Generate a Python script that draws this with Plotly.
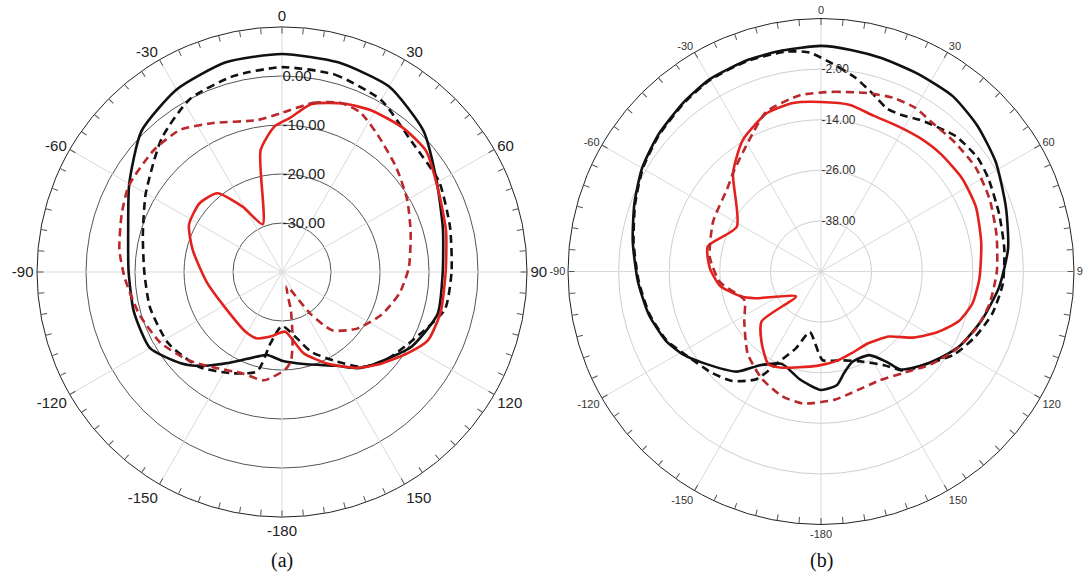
import plotly.graph_objects as go

# ---------------- data: panel (a) ----------------
a_bs_theta = [0, 15, 30, 45, 60, 75, 90, 105, 120, 135, 142, 150, 165, 180, -170, -163, -150, -139, -132, -120, -105, -90, -75, -60, -45, -30, -15, 0]
a_bs_r = [4.5, 4.3, 3.7, 0.8, -3.5, -6.0, -7.2, -7.1, -9.5, -13.4, -15.1, -17.9, -20.5, -21.9, -22.8, -21.9, -18.6, -14.6, -12.2, -8.9, -8.7, -8.7, -7.5, -4.0, 0.6, 3.0, 4.3, 4.5]

a_bd_theta = [0, 15, 30, 45, 60, 75, 90, 103, 117, 130, 140, 150, 160, 168, 180, -171, -166, -154, -139, -122, -105, -90, -75, -60, -42, -28, -14, 0]
a_bd_r = [1.8, 1.7, 0.5, -2.5, -3.0, -4.5, -5.4, -5.9, -9.8, -12.2, -14.7, -19.2, -22.7, -26.4, -29.0, -25.4, -19.1, -17.0, -14.3, -12.6, -12.1, -11.9, -10.6, -7.9, -3.3, 0.0, 1.2, 1.8]

a_rs_theta = [-22, -10, -3, 3, 10, 20, 29, 40, 50, 63, 76, 90, 104, 115, 123, 134, 142, 153, 165, 177, -170.5, -159, -149, -121.5, -97.6, -76, -63, -50, -39.4, -31, -22]
a_rs_r = [-29.5, -14.8, -10.3, -8.5, -5.2, -3.4, -2.3, -1.6, -1.6, -4.1, -5.5, -6.6, -6.6, -7.1, -9.5, -12.8, -15.2, -18.9, -22.8, -27.8, -26.7, -25.5, -25.7, -26.3, -24.5, -21.2, -18.7, -18.1, -19.2, -24.5, -29.5]

a_rd_theta = [0, 10.4, 18.9, 26, 35, 47.6, 60, 72.7, 88, 100, 112.8, 127, 139.3, 145.7, 162, 167, 171, 174.2, 178, -170.6, -158.8, -144.7, -133.6, -120.2, -106.4, -92.3, -82.2, -70, -60.6, -46.5, -35.7, -24.8, -9.3, 0]
a_rd_r = [-7.5, -4.9, -3.5, -3.7, -5.9, -8.4, -10.5, -12.5, -14.1, -15.6, -17.8, -20.8, -24.3, -29.6, -36.9, -31.9, -26.1, -21.8, -20.1, -17.6, -17.8, -16.1, -13.8, -11.3, -9.6, -7.9, -6.5, -5.2, -4.1, -3.9, -4.3, -6.5, -8.6, -7.5]

# ---------------- data: panel (b) ----------------
b_bs_theta = [0, 8, 16, 26, 37, 47, 58, 71, 83, 95, 107, 118, 126, 133, 141, 144, 150, 161, 167, 172, 180, -169, -157, -147, -140, -128, -121, -114, -104, -93, -81, -70, -60, -50, -39, -30, -19, -10, 0]
b_bs_r = [3.5, 3.0, 2.6, 2.2, 2.0, 0.7, -1.1, -3.6, -5.3, -7.6, -10.2, -12.6, -15.1, -17.3, -20.1, -23.5, -27.1, -27.3, -25.4, -22.8, -21.9, -23.9, -26.2, -23.5, -19.0, -14.7, -11.8, -9.7, -7.9, -6.5, -4.8, -2.9, -1.0, 0.4, 1.7, 2.7, 3.1, 3.2, 3.5]

b_bd_theta = [-3, 5, 10, 16, 22, 27, 33, 37, 45, 54, 61, 72, 83, 94, 104, 113, 122, 133, 140, 146, 155, 167, 179, -169.5, -162, -155, -149, -141, -133, -121, -114, -104, -93, -81, -70, -60, -50, -39, -30, -19, -9, -3]
b_bd_r = [2.0, -1.4, -3.3, -6.0, -8.3, -8.3, -7.1, -6.4, -4.7, -4.1, -4.6, -5.6, -6.2, -6.8, -8.2, -10.3, -12.8, -17.3, -19.2, -23.2, -26.4, -28.4, -29.0, -35.4, -30.9, -26.3, -20.2, -16.6, -14.7, -12.1, -9.9, -8.1, -6.7, -5.0, -3.1, -1.2, 0.2, 1.5, 2.5, 2.9, 2.8, 2.0]

b_rs_theta = [0, 9.9, 18.6, 28, 36.5, 45.6, 56.6, 67.4, 79.9, 92.6, 102, 109.9, 117.4, 125.5, 133.8, 146.3, 159.7, 169.5, -177.5, -158, -150.5, -140.2, -130, -134.9, -111.9, -107.2, -98, -88.1, -77.5, -62, -41.8, -30.7, -18.8, -9.4, 0]
b_rs_r = [-9.8, -9.9, -11.0, -11.0, -10.6, -10.2, -9.9, -10.2, -11.4, -12.4, -13.3, -15.3, -18.8, -23.0, -27.7, -29.6, -29.3, -28.5, -27.6, -25.4, -24.7, -28.0, -31.6, -41.6, -33.0, -30.1, -25.8, -23.6, -22.5, -27.4, -18.7, -13.7, -10.3, -9.5, -9.8]

b_rd_theta = [-6.8, 3.8, 14.5, 22.5, 30, 36.2, 46.2, 56.2, 67, 78.5, 90, 100.8, 110.2, 120.3, 130.2, 141, 151.9, 166, 174.2, -172.2, -162.7, -150.9, -138.2, -123, -110.4, -96, -82.6, -65.1, -48.9, -41.1, -29.7, -19, -6.8]
b_rd_r = [-7.9, -7.3, -6.3, -5.4, -5.2, -5.9, -5.9, -5.8, -6.5, -7.5, -8.3, -9.3, -10.8, -13.1, -15.9, -19.0, -20.7, -20.3, -19.4, -18.4, -19.0, -21.0, -23.9, -28.3, -30.6, -25.9, -23.4, -21.8, -20.4, -18.5, -14.9, -10.0, -7.9]

# axis settings
a_range = [-40, 10]
a_rticks = [-30, -20, -10, 0]
a_rtext = ["-30.00", "-20.00", "-10.00", "0.00"]
b_range = [-50, 10]
b_rticks = [-38, -26, -14, -2]
b_rtext = ["-38.00", "-26.00", "-14.00", "-2.00"]

ang_major = [0, 30, 60, 90, 120, 150, 180, 210, 240, 270, 300, 330]
ang_ticks = list(range(0, 360, 5))


def ang_label(v):
    if v % 30:
        return ""
    if v <= 150:
        return str(v)
    return str(v - 360)


ang_text = [ang_label(v) for v in ang_ticks]

BLACK = "#111111"
RED = "#e3221d"
DRED = "#b8282c"

fig = go.Figure()


def spokes(subplot, rng):
    for ang in ang_major:
        fig.add_trace(go.Scatterpolar(r=[rng[0], rng[1]], theta=[ang, ang], mode="lines",
                                      line=dict(color="#d9d9d9", width=1), hoverinfo="skip",
                                      showlegend=False, subplot=subplot))


spokes("polar", a_range)
spokes("polar2", b_range)


def curve(subplot, th, r, color, dash):
    fig.add_trace(go.Scatterpolar(r=r, theta=th, mode="lines",
                                  line=dict(color=color, width=2.6, dash=dash, shape="spline", smoothing=0.6),
                                  showlegend=False, subplot=subplot))


DASH = "8px,5px"
curve("polar", a_bs_theta, a_bs_r, BLACK, "solid")
curve("polar", a_bd_theta, a_bd_r, BLACK, DASH)
curve("polar", a_rs_theta, a_rs_r, RED, "solid")
curve("polar", a_rd_theta, a_rd_r, DRED, DASH)

curve("polar2", b_bs_theta, b_bs_r, BLACK, "solid")
curve("polar2", b_bd_theta, b_bd_r, BLACK, DASH)
curve("polar2", b_rs_theta, b_rs_r, RED, "solid")
curve("polar2", b_rd_theta, b_rd_r, DRED, DASH)

W, H = 1083, 581


def dom(cx, cy, R):
    return dict(x=[(cx - R) / W, (cx + R) / W], y=[1 - (cy + R) / H, 1 - (cy - R) / H])


def polar_layout(d, rng, rticks, rtext, gridcol, fsize, rsize, fcol):
    return dict(
        domain=d,
        bgcolor="white",
        angularaxis=dict(rotation=90, direction="clockwise", tickmode="array",
                         tickvals=ang_ticks, ticktext=ang_text, ticks="inside", ticklen=6,
                         tickwidth=1, tickcolor="#555", showgrid=False, showline=True, linecolor="#222",
                         linewidth=1, tickfont=dict(family="Liberation Sans", size=fsize, color=fcol)),
        radialaxis=dict(range=rng, tickmode="array", tickvals=rticks, ticktext=rtext,
                        angle=90, tickangle=90, showline=False, ticks="", gridcolor=gridcol,
                        gridwidth=1, side="clockwise",
                        tickfont=dict(family="Liberation Sans", size=rsize, color=fcol)),
    )


fig.update_layout(
    width=W, height=H, autosize=False,
    margin=dict(l=0, r=0, t=0, b=0),
    paper_bgcolor="white",
    polar=polar_layout(dom(282, 272, 245), a_range, a_rticks, a_rtext, "#555555", 15, 15, "#222222"),
    polar2=polar_layout(dom(821, 271.5, 253), b_range, b_rticks, b_rtext, "#cfcfcf", 11, 12, "#333333"),
    annotations=[
        dict(text="(a)", x=282 / W, y=1 - 560 / H, xref="paper", yref="paper", showarrow=False,
             xanchor="center", yanchor="middle",
             font=dict(family="Liberation Serif", size=20, color="#111")),
        dict(text="(b)", x=821 / W, y=1 - 560 / H, xref="paper", yref="paper", showarrow=False,
             xanchor="center", yanchor="middle",
             font=dict(family="Liberation Serif", size=20, color="#111")),
    ],
)

fig.write_html("out.html", config={"displayModeBar": False},
               post_script="document.body.style.margin='0px';document.body.style.overflow='hidden';")
